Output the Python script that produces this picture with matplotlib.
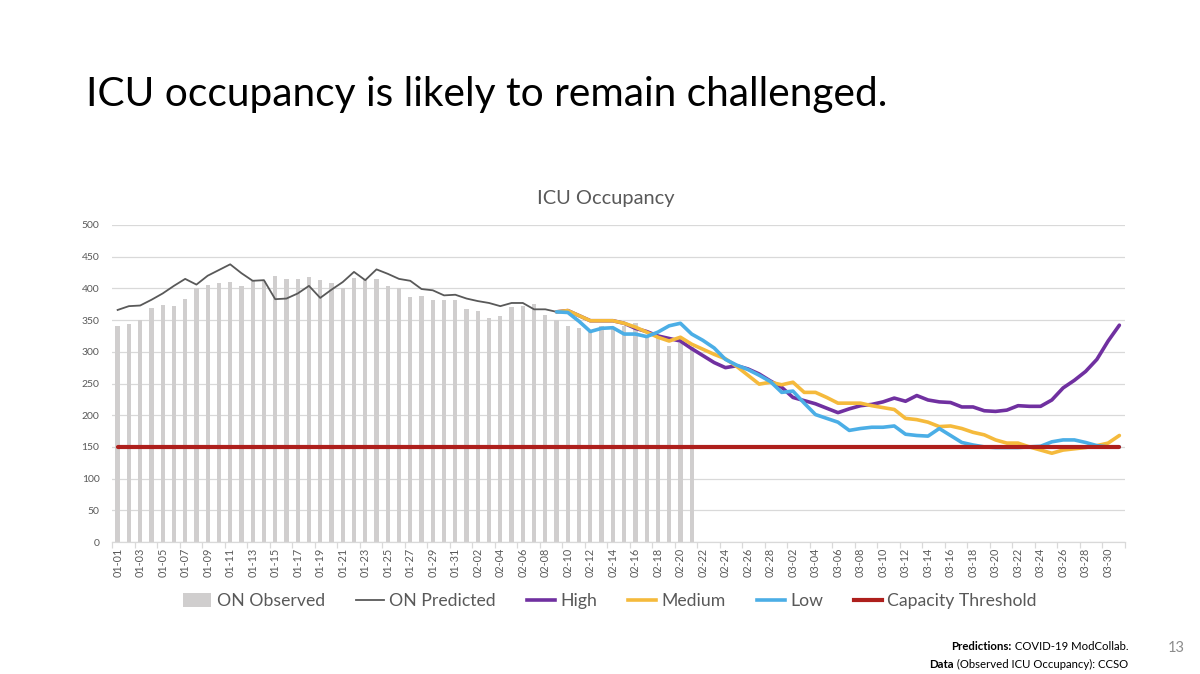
import matplotlib
matplotlib.use('Agg')
import matplotlib.pyplot as plt
import numpy as np
import pandas as pd
from matplotlib.patches import Patch
from matplotlib.lines import Line2D

plt.rcParams['font.family'] = ['Lato', 'DejaVu Sans']

# ---------------- data ----------------
dates = pd.date_range('2021-01-01', '2021-03-31').strftime('%m-%d').tolist()

observed = [341, 344, 350, 369, 374, 372, 383, 400, 405, 409,
            410, 403, 412, 412, 420, 415, 415, 418, 414, 409,
            400, 416, 413, 415, 404, 400, 386, 388, 381, 381,
            382,
            367, 364, 353, 357, 370, 373, 376, 358, 350, 340,
            337, 335, 340, 339, 340, 346, 324, 325, 309, 314,
            308]

predicted = [366, 372, 373, 382, 392, 404, 415, 406, 420, 429,
             438, 424, 412, 413, 383, 384, 392, 404, 385, 398,
             410, 426, 413, 430, 423, 415, 412, 399, 397, 389,
             390,
             384, 380, 377, 372, 377, 377, 367, 367, 363]

scenario_start = '02-09'

high = [363, 365, 357, 349, 349, 349, 345, 337, 332, 325,
        321, 317, 305, 294, 283, 275, 278, 273, 265, 254,
        244, 228, 223, 218, 211, 204, 210, 215, 217, 221,
        227, 222, 231, 224, 221, 220, 213, 213, 207, 206,
        208, 215, 214, 214, 224, 243, 255, 269, 288, 317,
        342]

medium = [363, 365, 357, 349, 349, 349, 345, 339, 331, 323,
          317, 323, 312, 304, 296, 289, 277, 263, 249, 252,
          248, 252, 236, 236, 228, 219, 219, 219, 215, 212,
          209, 195, 193, 189, 182, 183, 179, 173, 169, 161,
          156, 156, 150, 145, 140, 145, 147, 149, 152, 156,
          168]

low = [363, 362, 348, 332, 337, 338, 328, 328, 324, 331,
       341, 345, 328, 318, 306, 288, 279, 272, 263, 253,
       236, 238, 219, 201, 195, 189, 176, 179, 181, 181,
       183, 170, 168, 167, 179, 168, 157, 153, 150, 149,
       149, 149, 150, 151, 158, 161, 161, 157, 152, 150,
       150]

capacity = [150] * len(dates)

title = 'ICU occupancy is likely to remain challenged.'
chart_title = 'ICU Occupancy'
legend_labels = ['ON Observed', 'ON Predicted', 'High', 'Medium', 'Low', 'Capacity Threshold']

# ---------------- styles ----------------
C_BAR = '#D0CECE'
C_PRED = '#595959'
C_HIGH = '#7030A0'
C_MED = '#F5BA3C'
C_LOW = '#4BAEE6'
C_CAP = '#AE1F1C'
C_GRID = '#D9D9D9'
C_TXT = '#595959'

W, H = 1200, 674
fig = plt.figure(figsize=(W / 100, H / 100), dpi=100)
fig.patch.set_facecolor('white')

ax = fig.add_axes([112 / W, 1 - 542 / H, (1125 - 112) / W, (542 - 225) / H])

x = np.arange(len(dates))
s0 = dates.index(scenario_start)

ax.bar(x[:len(observed)], observed, width=0.38, color=C_BAR, zorder=2)
ax.plot(x[:len(predicted)], predicted, color=C_PRED, lw=1.3, zorder=3)
ax.plot(x[s0:s0 + len(high)], high, color=C_HIGH, lw=2.6, zorder=4, solid_capstyle='round')
ax.plot(x[s0:s0 + len(medium)], medium, color=C_MED, lw=2.6, zorder=5, solid_capstyle='round')
ax.plot(x[s0:s0 + len(low)], low, color=C_LOW, lw=2.6, zorder=6, solid_capstyle='round')
ax.plot(x, capacity, color=C_CAP, lw=3.0, zorder=7, solid_capstyle='round')

ax.set_xlim(-0.5, len(dates) - 0.5)
ax.set_ylim(0, 500)
ax.set_yticks(np.arange(0, 501, 50))
ax.yaxis.grid(True, color=C_GRID, lw=0.9, zorder=0)
ax.set_axisbelow(True)
for sp in ['top', 'right', 'left']:
    ax.spines[sp].set_visible(False)
ax.spines['bottom'].set_color(C_GRID)
ax.spines['bottom'].set_linewidth(0.9)

ax.set_xticks(x[::2])
ax.set_xticklabels(dates[::2], rotation=90, fontsize=7.8, color=C_TXT)
ax.set_xticks(np.arange(-0.5, len(dates), 2), minor=True)
ax.tick_params(axis='x', which='major', length=0, pad=4)
ax.tick_params(axis='x', which='minor', length=4, color=C_GRID, width=0.9)
ax.tick_params(axis='y', length=0, pad=9, labelsize=7.5, labelcolor=C_TXT)

# ---------------- texts ----------------
renderer = fig.canvas.get_renderer()


def fit(t, target_w):
    bb = t.get_window_extent(renderer)
    t.set_fontsize(t.get_fontsize() * target_w / bb.width)


t_title = fig.text(86 / W, 1 - 106 / H, title, fontsize=28, color='black', va='baseline', ha='left')
fit(t_title, 802)

t_ct = fig.text(606 / W, 1 - 204 / H, chart_title, fontsize=15, color=C_TXT, va='baseline', ha='center')
fit(t_ct, 138)

handles = [
    Patch(facecolor=C_BAR, edgecolor='none'),
    Line2D([], [], color=C_PRED, lw=1.3),
    Line2D([], [], color=C_HIGH, lw=2.6),
    Line2D([], [], color=C_MED, lw=2.6),
    Line2D([], [], color=C_LOW, lw=2.6),
    Line2D([], [], color=C_CAP, lw=3.0),
]
leg = fig.legend(handles, legend_labels, loc='center', bbox_to_anchor=(610 / W, 1 - 601 / H),
                 ncol=6, frameon=False, fontsize=12.7, handlelength=1.6, handleheight=0.8,
                 handletextpad=0.3, columnspacing=1.75, labelcolor=C_TXT)

# footer
fs_f = 8.2
right = 1128 / W
y1 = 1 - 650 / H
y2 = 1 - 668 / H
t1b = fig.text(right, y1, ' COVID-19 ModCollab.', fontsize=fs_f, ha='right', va='baseline', color='black')
fig.canvas.draw()
bb = t1b.get_window_extent(renderer)
fig.text(bb.x0 / W, y1, 'Predictions:', fontsize=fs_f, ha='right', va='baseline',
         color='black', fontweight='bold')
t2b = fig.text(right, y2, ' (Observed ICU Occupancy): CCSO', fontsize=fs_f, ha='right', va='baseline', color='black')
fig.canvas.draw()
bb = t2b.get_window_extent(renderer)
fig.text(bb.x0 / W, y2, 'Data', fontsize=fs_f, ha='right', va='baseline',
         color='black', fontweight='bold')

fig.text(1185 / W, 1 - 652 / H, '13', fontsize=10.5, ha='right', va='baseline', color='#8C8C8C')

fig.savefig('out.png', dpi=100, facecolor='white')
